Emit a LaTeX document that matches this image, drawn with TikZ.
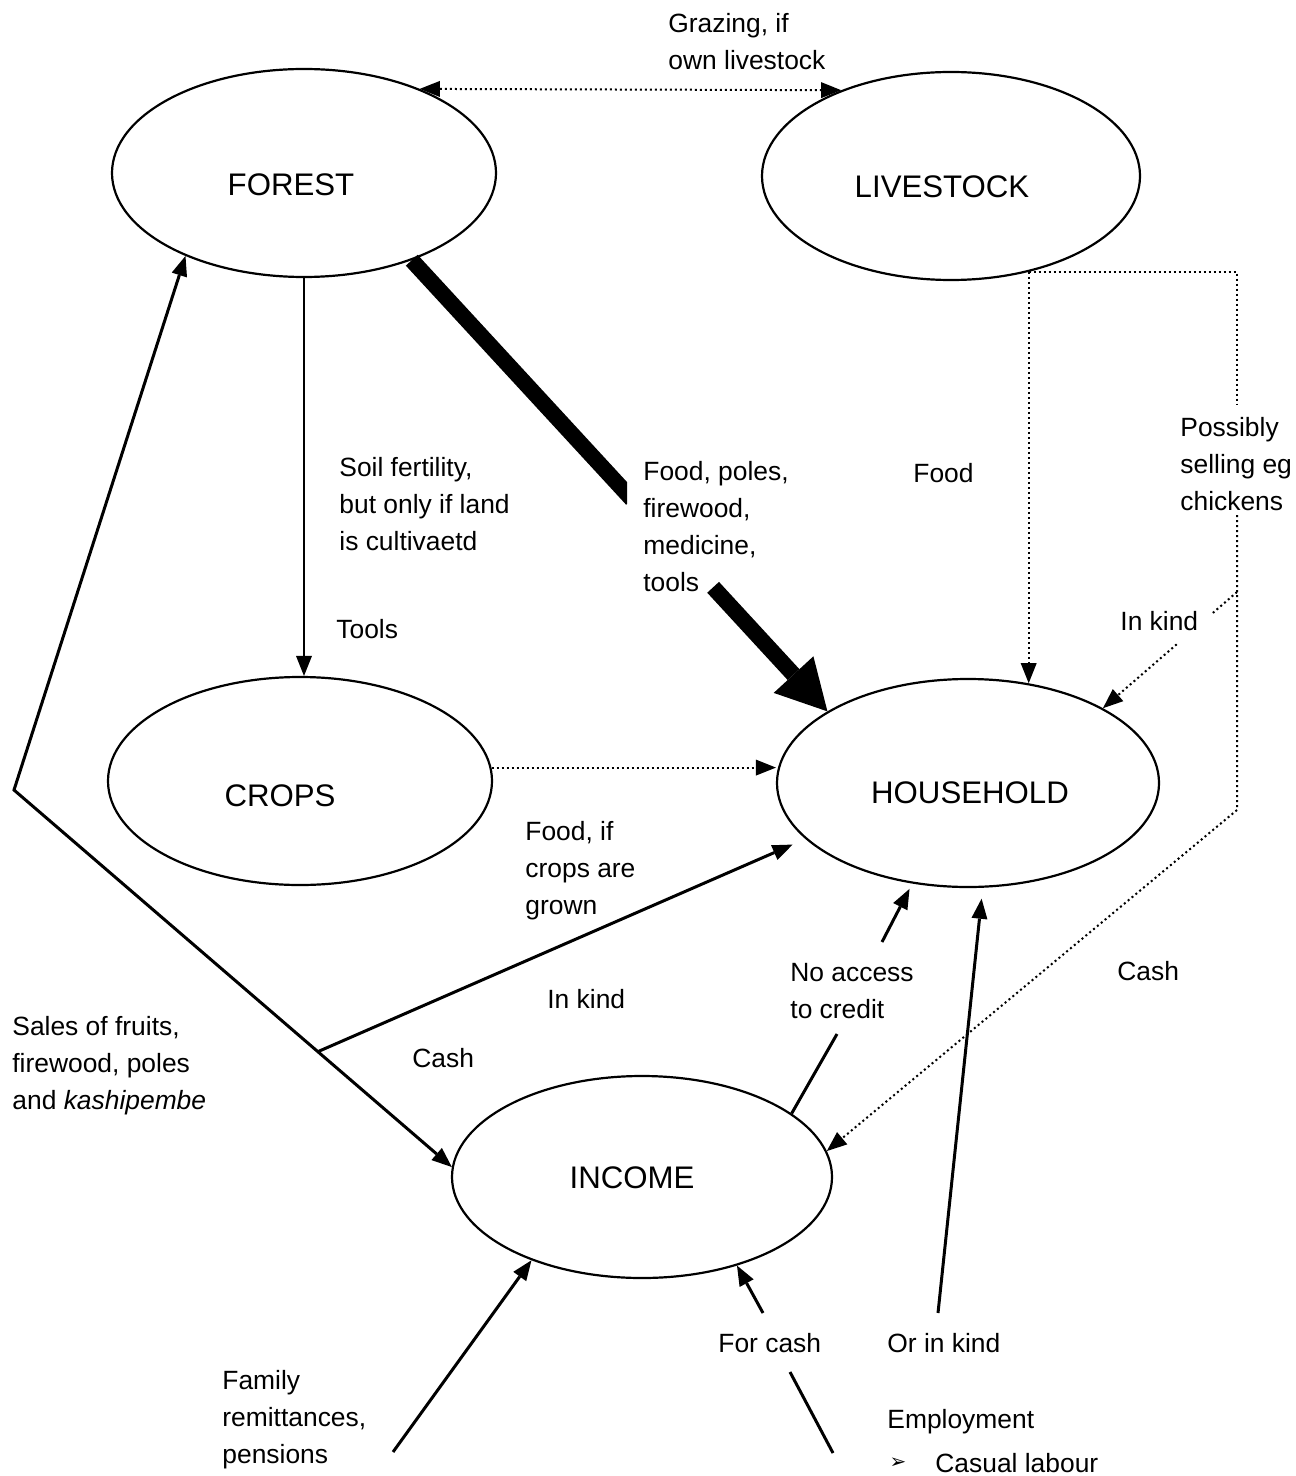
\documentclass[tikz,border=0pt]{standalone}
\usepackage{fontspec}
\setmainfont{Liberation Sans}
\newfontfamily\dejavu{DejaVu Sans}
\usetikzlibrary{shapes.geometric,arrows.meta,calc}
\begin{document}
\begin{tikzpicture}[x=0.5pt,y=-0.5pt,
  >={Triangle[length=10pt,width=8pt,line width=0pt]},
  ell/.style={draw, line width=1.1pt, ellipse, inner sep=0pt},
  etxt/.style={font=\fontsize{15.6pt}{18pt}\selectfont, inner sep=0pt},
  lbl/.style={font=\fontsize{13.2pt}{18.6pt}\selectfont, align=left, anchor=north west, inner sep=0pt},
  sline/.style={line width=1.5pt},
  tline/.style={line width=1pt},
  dline/.style={line width=1pt, dash pattern=on 1pt off 1.5pt},
  fatline/.style={line width=8pt}]
\useasboundingbox (0,0) rectangle (1295,1476);

% ellipses
\node[ell, minimum width=192pt, minimum height=104pt] (F) at (304,173) {};
\node[ell, minimum width=189pt, minimum height=104pt] (L) at (951,176) {};
\node[ell, minimum width=192pt, minimum height=104pt] (C) at (300,781) {};
\node[ell, minimum width=191pt, minimum height=104pt] (H) at (968,783) {};
\node[ell, minimum width=190pt, minimum height=101pt] (I) at (642,1177) {};

\node[etxt] (Ft) at (291,185) {FOREST};
\node[etxt] (Lt) at (942,187) {LIVESTOCK};
\node[etxt] (Ct) at (280,796) {CROPS};
\node[etxt] (Ht) at (970,793) {HOUSEHOLD};
\node[etxt] (It) at (632,1178) {INCOME};

% labels
\node[lbl] (lgraz) at (668,13) {Grazing, if\\own livestock};
\node[lbl] (lsoil) at (339,456.5) {Soil fertility,\\but only if land\\is cultivaetd};
\node[lbl] (ltools) at (336,618.5) {Tools};
\node[lbl] (lfood) at (643,460.5) {Food, poles,\\firewood,\\medicine,\\tools};
\node[lbl] (lfood2) at (913,462.5) {Food};
\node[lbl] (lposs) at (1180,416.5) {Possibly\\selling eg\\chickens};
\node[lbl] (lkind1) at (1120,610.5) {In kind};
\node[lbl] (lcrop) at (525,820.5) {Food, if\\crops are\\grown};
\node[lbl] (lkind2) at (547,988.5) {In kind};
\node[lbl] (lcash1) at (412,1047.5) {Cash};
\node[lbl] (lsales) at (12,1015.5) {Sales of fruits,\\firewood, poles\\and \textit{kashipembe}};
\node[lbl] (lcred) at (790,962.5) {No access\\to credit};
\node[lbl] (lcash2) at (1117,960.5) {Cash};
\node[lbl] (lforc) at (718,1332.5) {For cash};
\node[lbl] (lork) at (887,1332.5) {Or in kind};
\node[lbl] (lfam) at (222,1369.5) {Family\\remittances,\\pensions};
\node[lbl] (lemp) at (887,1408.5) {Employment};
\node[lbl] (lcas) at (935,1452.5) {Casual labour};
\node[font=\dejavu\fontsize{10pt}{11pt}\selectfont, inner sep=0pt] (bul) at (898,1463) {➢};

% coordinates
\coordinate (tb1) at ($(F.-39)!0.53!(H.153)$);
\coordinate (tb2) at ($(F.-39)!0.725!(H.153)$);
\coordinate (rg1) at (1237,405);
\coordinate (rg2) at (1237,515);
\coordinate (rc2) at (1237,810);
\coordinate (rk) at (1237,592);
\coordinate (kg1) at ($(rk)!0.18!(H.29)$);
\coordinate (kg2) at ($(rk)!0.45!(H.29)$);
\coordinate (lc) at (14,790);
\coordinate (fs) at ($(lc)!0.694!(I.177)$);
\coordinate (na1) at (837,1034);
\coordinate (na2) at (882,942);
\coordinate (oik) at (938,1313);
\coordinate (fc1) at (833,1453);
\coordinate (fc2) at (790,1372);
\coordinate (fc3) at (763,1313);
\coordinate (fam) at (393,1452);

% connectors
\draw[dline,<->] (F.36) -- (L.142);
\draw[tline,->] (F.south) -- (F.south |- C.north);
\begin{scope}
  \clip (0,0) rectangle (627,1476);
  \draw[fatline] (F.-39) -- (tb1);
\end{scope}
\draw[fatline,-{Triangle[length=25pt,width=27pt,line width=0pt]}] (tb2) -- (H.153);

\draw[dline,->] (L.-51) -- (L.-51 |- H.59);
\draw[dline] (L.-51) -| (rg1);
\draw[dline,->] (rg2) -- (rc2) -- (I.8);
\draw[dline] (rk) -- (kg1);
\draw[dline,->] (kg2) -- (H.29);

\draw[dline,->] (C.4) -- (C.4 -| H.west);

\draw[sline,<->] (F.215) -- (lc) -- (I.177);
\draw[sline,->,shorten >=7pt] (fs) -- (H.199);

\draw[sline] (I.23) -- (na1);
\draw[sline,->,shorten >=3pt] (na2) -- (H.241);
\draw[sline,->,shorten >=5.5pt] (oik) -- (H.-82);
\draw[sline] (fc1) -- (fc2);
\draw[sline,->] (fc3) -- (I.-43);
\draw[sline,->] (fam) -- (I.217);
\end{tikzpicture}
\end{document}
